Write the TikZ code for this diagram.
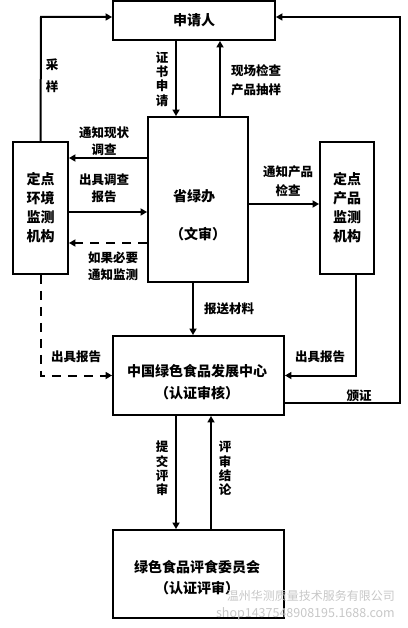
\documentclass[tikz,border=0pt]{standalone}
\usepackage{fontspec}
\setmainfont{Noto Sans CJK SC}
\usetikzlibrary{arrows.meta}
\begin{document}
\begin{tikzpicture}[x=1pt,y=-1pt,
  box/.style={draw, line width=1.9pt, inner sep=0pt},
  boxtxt/.style={font=\bfseries\fontsize{14}{19}\selectfont, inner sep=0pt, align=center},
  lab/.style={font=\bfseries\fontsize{12.5}{17}\selectfont, inner sep=0pt, align=center},
  vlab/.style={font=\bfseries\fontsize{12.5}{14.3}\selectfont, inner sep=0pt, align=center},
  conn/.style={line width=2pt, -{Triangle[length=6.5pt,width=7pt]}},
  dconn/.style={conn, dash pattern=on 9pt off 7pt},
  wm/.style={text=black!22, inner sep=0pt, anchor=east}]
\useasboundingbox (0,0) rectangle (407,628);
% boxes
\node[box, minimum width=162pt, minimum height=39pt, boxtxt] (app) at (194,20.5) {申请人};
\node[box, minimum width=100pt, minimum height=165pt] (prov) at (198,199.5) {};
\node[box, minimum width=55pt, minimum height=132pt, boxtxt] (envl) at (40.5,208) {定点\\环境\\监测\\机构};
\node[box, minimum width=54pt, minimum height=132pt, boxtxt] (prodr) at (347,208) {定点\\产品\\监测\\机构};
\node[box, minimum width=171pt, minimum height=79pt] (cntr) at (198.5,375.5) {};
\node[box, minimum width=171pt, minimum height=88pt] (comm) at (198.5,574) {};
% box texts
\node[boxtxt] (provt1) at (194,196) {省绿办};
\node[boxtxt] (provt2) at (198,234) {（文审）};
\node[boxtxt] (cntrt1) at (197,371) {中国绿色食品发展中心};
\node[boxtxt] (cntrt2) at (197,393) {（认证审核）};
\node[boxtxt] (commt1) at (197,567) {绿色食品评食委员会};
\node[boxtxt] (commt2) at (197,588) {（认证评审）};
% coordinates
\coordinate (rt) at (400,17);
\coordinate (lt) at (41,17);
% connectors
\draw[conn] (envl.north) -- (lt) -- (app.west |- lt);
\draw[conn] ([yshift=-27.5pt]cntr.east) -| (rt) -- (app.east |- rt);
\draw[conn] (app.south -| 176,0) -- (prov.north -| 176,0);
\draw[conn] (prov.north -| 220,0) -- (app.south -| 220,0);
\draw[conn] (prov.west |- 0,158) -- (envl.east |- 0,158);
\draw[conn] (envl.east |- 0,212) -- (prov.west |- 0,212);
\draw[dconn] (prov.west |- 0,243) -- (envl.east |- 0,243);
\draw[conn] (prov.east |- 0,204) -- (prodr.west |- 0,204);
\draw[conn] (prov.south -| 193,0) -- (cntr.north -| 193,0);
\draw[dconn] (envl.south) |- (cntr.west);
\draw[conn] (prodr.south -| 356,0) |- (cntr.east);
\draw[conn] (cntr.south -| 176,0) -- (comm.north -| 176,0);
\draw[conn] (comm.north -| 211,0) -- (cntr.south -| 211,0);
% labels
\node[lab, font=\bfseries\fontsize{12.5}{22}\selectfont] (l1) at (52,76) {采\\样};
\node[vlab] (l2) at (162,79) {证\\书\\申\\请};
\node[lab, font=\bfseries\fontsize{12.5}{19}\selectfont] (l3) at (256,80) {现场检查\\产品抽样};
\node[lab] (l4) at (104,141.5) {通知现状\\调查};
\node[lab] (l5) at (104,188.5) {出具调查\\报告};
\node[lab] (l6) at (113,266) {如果必要\\通知监测};
\node[lab, font=\bfseries\fontsize{12.5}{19}\selectfont] (l7) at (288,181) {通知产品\\检查};
\node[lab] (l8) at (229,309) {报送材料};
\node[lab] (l9) at (76,357) {出具报告};
\node[lab] (l10) at (320,357) {出具报告};
\node[lab] (l11) at (359,396) {颁证};
\node[vlab] (l12) at (162,468.5) {提\\交\\评\\审};
\node[vlab] (l13) at (225,468.5) {评\\审\\结\\论};
% watermark
\node[wm, font=\fontsize{12}{12}\selectfont] (wm1) at (395,596) {温州华测质量技术服务有限公司};
\node[wm, font=\fontsize{12.5}{12.5}\selectfont] (wm2) at (395,614) {shop1437548908195.1688.com};
\end{tikzpicture}
\end{document}
